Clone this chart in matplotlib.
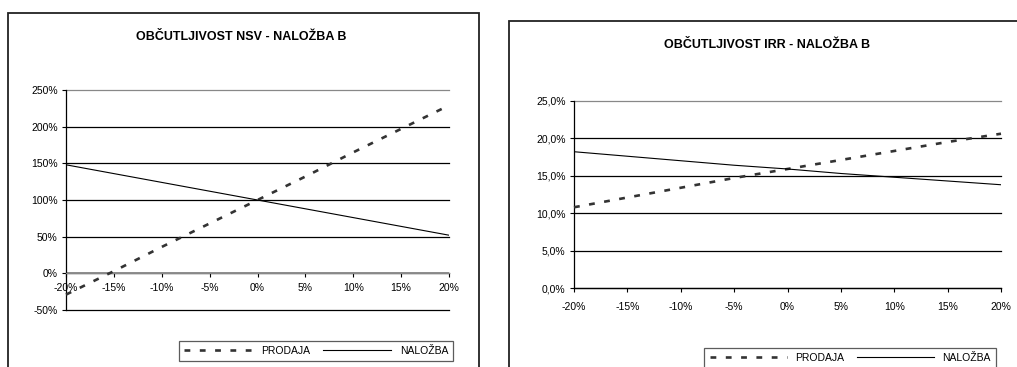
import matplotlib
matplotlib.use("Agg")
import matplotlib.pyplot as plt
from matplotlib.lines import Line2D
from matplotlib.patches import Rectangle
from matplotlib.ticker import FuncFormatter

plt.rcParams['font.family'] = ['Liberation Sans', 'DejaVu Sans']
plt.rcParams['font.size'] = 7.5

# sensitivity steps (change of the input variable)
changes = [-20, -15, -10, -5, 0, 5, 10, 15, 20]

# NSV sensitivity (index, %)
nsv_prodaja = [-29, 3, 36, 68, 100, 132, 165, 197, 229]
nsv_nalozba = [148, 136, 124, 112, 100, 88, 76, 64, 52]

# IRR sensitivity (%)
irr_prodaja = [10.8, 12.1, 13.4, 14.7, 15.9, 17.1, 18.3, 19.5, 20.6]
irr_nalozba = [18.2, 17.6, 17.0, 16.4, 15.9, 15.3, 14.8, 14.3, 13.8]

W, H = 1017, 367
fig = plt.figure(figsize=(W / 100, H / 100), dpi=100)

DASH = (0, (2.2, 3.6))


def px_axes(x0, y0, x1, y1):
    # axes placed by pixel box (top-left origin)
    return fig.add_axes([x0 / W, 1 - y1 / H, (x1 - x0) / W, (y1 - y0) / H])


def panel(x0, y0, x1, y1):
    fig.patches.append(Rectangle((x0 / W, 1 - y1 / H), (x1 - x0) / W, (y1 - y0) / H,
                                 transform=fig.transFigure, fill=False,
                                 edgecolor='#222222', linewidth=1.3))


def style(ax, ticks, top, xpad):
    for t in ticks:
        col = '#888888' if t == top else 'black'
        ax.axhline(t, color=col, linewidth=0.9, zorder=1, clip_on=False)
    ax.set_xlim(-20, 20)
    ax.set_xticks(changes)
    ax.xaxis.set_major_formatter(FuncFormatter(lambda v, p: f"{v:.0f}%"))
    ax.set_yticks(ticks)
    for s in ['top', 'right']:
        ax.spines[s].set_visible(False)
    ax.spines['left'].set_linewidth(0.9)
    ax.spines['bottom'].set_linewidth(0.9)
    ax.tick_params(axis='both', direction='out', length=3, width=0.8, pad=3)
    ax.tick_params(axis='x', pad=xpad)


def draw_lines(ax, prodaja, nalozba):
    ax.plot(changes, prodaja, color='#333333', linewidth=1.9,
            linestyle=DASH, zorder=3, clip_on=False)
    ax.plot(changes, nalozba, color='black', linewidth=0.8, zorder=3)


def add_legend(cx, cy, hl):
    handles = [Line2D([], [], color='#333333', linewidth=1.9, linestyle=DASH),
               Line2D([], [], color='black', linewidth=0.8)]
    leg = fig.legend(handles, ['PRODAJA', 'NALOŽBA'], loc='center',
                     bbox_to_anchor=(cx / W, 1 - cy / H), ncol=2,
                     handlelength=hl, handletextpad=0.8, columnspacing=1.2,
                     frameon=True, fancybox=False, borderpad=0.5, fontsize=7.5)
    leg.get_frame().set_edgecolor('#333333')
    leg.get_frame().set_linewidth(0.9)


# left chart: NSV
panel(8, 13, 479, 400)
ax1 = px_axes(66, 90, 449, 310)
ax1.set_ylim(-50, 250)
style(ax1, [-50, 0, 50, 100, 150, 200, 250], 250, 4)
ax1.axhline(0, color='#888888', linewidth=1.3, zorder=2)
ax1.spines['bottom'].set_position(('data', 0))
ax1.spines['bottom'].set_color('#888888')
ax1.yaxis.set_major_formatter(FuncFormatter(lambda v, p: f"{v:.0f}%"))
draw_lines(ax1, nsv_prodaja, nsv_nalozba)
fig.text(241 / W, 1 - 37 / H, 'OBČUTLJIVOST NSV - NALOŽBA B', ha='center', va='center',
         fontsize=9, fontweight='bold')
add_legend(316, 351, 6.6)

# right chart: IRR
panel(509, 21, 1040, 400)
ax2 = px_axes(574, 100.7, 1001, 288.3)
ax2.set_ylim(0, 25)
style(ax2, [0, 5, 10, 15, 20, 25], 25, 7)
ax2.yaxis.set_major_formatter(FuncFormatter(lambda v, p: f"{v:.1f}%".replace('.', ',')))
draw_lines(ax2, irr_prodaja, irr_nalozba)
fig.text(767 / W, 1 - 45 / H, 'OBČUTLJIVOST IRR - NALOŽBA B', ha='center', va='center',
         fontsize=9, fontweight='bold')
add_legend(850, 358, 7.4)

fig.savefig('out.png', dpi=100)
